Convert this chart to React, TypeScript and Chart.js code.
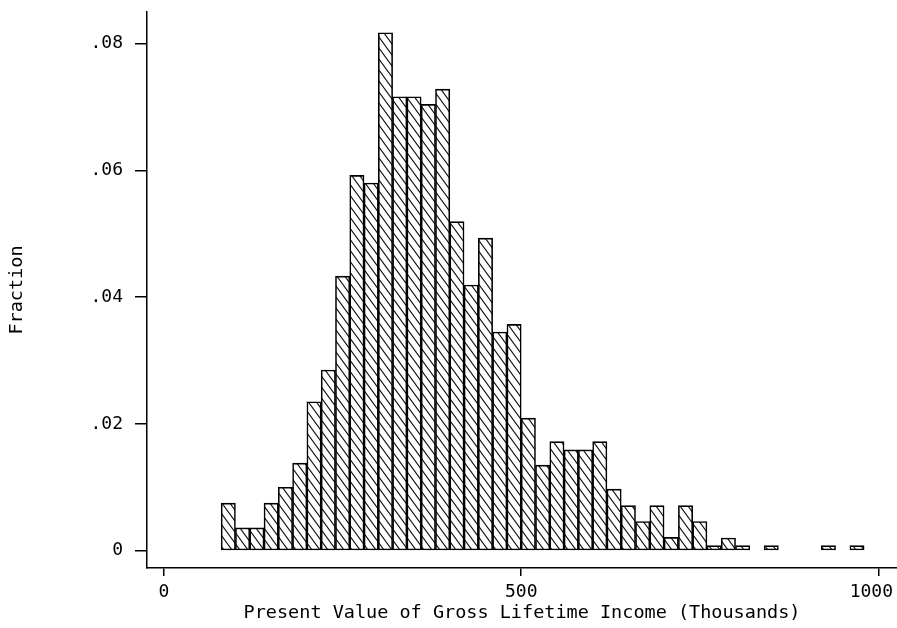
import React, { useEffect, useRef } from 'react';
import { Chart, registerables } from 'chart.js';

Chart.register(...registerables);

// Histogram bins (left edge, thousands) and fraction of observations
const binStarts = [
  80, 100, 120, 140, 160, 180, 200, 220, 240, 260,
  280, 300, 320, 340, 360, 380, 400, 420, 440, 460,
  480, 500, 520, 540, 560, 580, 600, 620, 640, 660,
  680, 700, 720, 740, 760, 780, 800, 820, 840, 860,
  880, 900, 920, 940, 960,
];
const binWidth = 20;
const fractions: (number | null)[] = [
  0.0075, 0.0036, 0.0036, 0.0075, 0.0100, 0.0138, 0.0235, 0.0285, 0.0433, 0.0592,
  0.0580, 0.0817, 0.0716, 0.0716, 0.0704, 0.0728, 0.0519, 0.0419, 0.0493, 0.0345,
  0.0357, 0.0209, 0.0135, 0.0172, 0.0159, 0.0159, 0.0172, 0.0097, 0.0071, 0.0046,
  0.0071, 0.0021, 0.0071, 0.0046, 0.0008, 0.0020, 0.0008, null, 0.0008, null,
  null, null, 0.0008, null, 0.0008,
];
const xTicks = [0, 500, 1000];
const xTickLabels = ['0', '500', '1000'];
const yTicks = [0, 0.02, 0.04, 0.06, 0.08];
const yTickLabels = ['0', '.02', '.04', '.06', '.08'];
const xTitle = 'Present Value of Gross Lifetime Income (Thousands)';
const yTitle = 'Fraction';

// keeps the last x tick label inside the canvas, right-aligned near the edge
const lastLabelInside = {
  id: 'lastLabelInside',
  beforeDraw(chart: any) {
    const scale = chart.scales.x;
    const items = scale.getLabelItems();
    const last = items[items.length - 1];
    if (last && last.options) {
      last.options.textAlign = 'right';
      last.options.translation = [chart.width - 4, last.options.translation[1]];
    }
  },
};

export default function App() {
  const ref = useRef<HTMLCanvasElement>(null);

  useEffect(() => {
    document.body.style.margin = '0';
    const canvas = ref.current!;
    const tile = document.createElement('canvas');
    const tw = 8;
    const th = 11;
    tile.width = tw;
    tile.height = th;
    const g = tile.getContext('2d')!;
    g.fillStyle = '#fff';
    g.fillRect(0, 0, tw, th);
    g.strokeStyle = '#111';
    g.lineWidth = 1.1;
    g.beginPath();
    for (const dx of [-tw, 0, tw]) {
      g.moveTo(dx - tw, -th);
      g.lineTo(dx + 2 * tw, 2 * th);
    }
    g.stroke();
    const pattern = canvas.getContext('2d')!.createPattern(tile, 'repeat')!;

    const font = { family: "'DejaVu Sans Mono', monospace", size: 18 };
    const titleFont = { family: "'DejaVu Sans Mono', monospace", size: 18.5 };

    const chart = new Chart(canvas, {
      type: 'bar',
      data: {
        datasets: [
          {
            data: binStarts.map((s, i) => ({ x: s + binWidth / 2, y: fractions[i] })) as any,
            backgroundColor: pattern as any,
            borderColor: '#000',
            borderWidth: 1.6,
            borderSkipped: false,
            barPercentage: 1,
            categoryPercentage: 1,
          },
        ],
      },
      options: {
        responsive: false,
        animation: false,
        layout: { padding: { top: 12, left: 0, right: 0, bottom: 0 } },
        plugins: { legend: { display: false }, tooltip: { enabled: false } },
        scales: {
          x: {
            type: 'linear',
            offset: false,
            min: -23.8,
            max: 1026,
            afterBuildTicks: (s: any) => {
              s.ticks = xTicks.map((v) => ({ value: v }));
            },
            afterFit: (s: any) => {
              s.height = 60;
              s.paddingLeft = 0;
              s.paddingRight = 0;
            },
            ticks: {
              color: '#000',
              font,
              padding: 6,
              maxRotation: 0,
              autoSkip: false,
              callback: (_v: any, i: number) => xTickLabels[i],
            },
            grid: { offset: false, drawOnChartArea: false, tickLength: 8, color: '#000', lineWidth: 1.5 },
            border: { color: '#000', width: 1.5 },
            title: {
              display: true,
              text: xTitle,
              color: '#000',
              font: titleFont,
              padding: { top: 0, bottom: 4 },
            },
          },
          y: {
            type: 'linear',
            min: -0.00273,
            max: 0.08497,
            afterBuildTicks: (s: any) => {
              s.ticks = yTicks.map((v) => ({ value: v }));
            },
            afterFit: (s: any) => {
              s.width = 147;
              s.paddingTop = 0;
              s.paddingBottom = 0;
            },
            ticks: {
              color: '#000',
              font,
              padding: 12,
              autoSkip: false,
              callback: (_v: any, i: number) => yTickLabels[i],
            },
            grid: { drawOnChartArea: false, tickLength: 12, color: '#000', lineWidth: 1.5 },
            border: { color: '#000', width: 1.5 },
            title: {
              display: true,
              text: yTitle,
              color: '#000',
              font: titleFont,
              padding: { top: 6, bottom: 0 },
            },
          },
        },
      },
      plugins: [lastLabelInside],
    });
    return () => chart.destroy();
  }, []);

  return <canvas ref={ref} width={897} height={628} style={{ display: 'block' }} />;
}
